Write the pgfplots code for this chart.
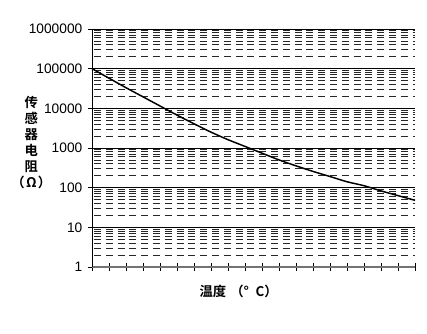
\documentclass[border=0pt]{standalone}
\usepackage{fontspec}
\setmainfont{Liberation Sans}
\newfontfamily\cjk{Noto Sans CJK SC}[BoldFont={* Bold}]
\usepackage{pgfplots}
\pgfplotsset{compat=1.18}
\begin{document}
\begin{tikzpicture}
\path[use as bounding box] (-69pt,-49.5pt) rectangle (251.25pt,200.25pt);
\begin{axis}[
  scale only axis,
  width=242.25pt, height=178.5pt,
  at={(0,0)}, anchor=south west,
  ymode=log,
  xmin=0, xmax=19, ymin=1, ymax=1000000,
  axis x line=bottom, axis y line=left,
  x axis line style={-, draw=black!55, line width=1.4pt},
  y axis line style={-, draw=black, line width=0.75pt},
  xtick={0,1,...,19}, xticklabels={},
  ytick={1,10,100,1000,10000,100000,1000000},
  yticklabels={1,10,100,1000,10000,100000,1000000},
  minor ytick={2,3,4,5,6,7,8,9,20,30,40,50,60,70,80,90,200,300,400,500,600,700,800,900,2000,3000,4000,5000,6000,7000,8000,9000,20000,30000,40000,50000,60000,70000,80000,90000,200000,300000,400000,500000,600000,700000,800000,900000},
  tick align=center,
  major tick length=5.5pt,
  minor tick length=0pt,
  every tick/.style={black, line width=0.75pt},
  ymajorgrids, yminorgrids,
  major grid style={black, line width=0.75pt},
  minor grid style={black!85, line width=0.6pt, dash pattern=on 5.25pt off 3.6pt, dash phase=-1.5pt},
  yticklabel style={font=\fontsize{10.3}{12}\selectfont, xshift=-1pt},
  /pgf/number format/assume math mode=true,
  clip=false,
]
\addplot[black, line width=1.1pt, smooth] coordinates {
(0,100000) (1,57544) (2,33113) (3,19498) (4,11482) (5,6761) (6,4074)
(7,2512) (8,1622) (9,1096) (10,741) (11,501) (12,355) (13,257)
(14,191) (15,141) (16,112) (17,83) (18,63) (19,48)
};
\end{axis}
\node[font={\cjk\bfseries\fontsize{10}{12}\selectfont}, align=center, inner sep=0pt] at (-45.5pt,93.4pt) {传\\感\\器\\电\\阻\\（\hspace{1pt}Ω\hspace{1pt}）};
\node[font={\cjk\bfseries\fontsize{10}{12}\selectfont}, inner sep=0pt] at (110pt,-18.5pt) {温度\hspace{3pt}（°\hspace{5pt}C）};
\end{tikzpicture}
\end{document}
